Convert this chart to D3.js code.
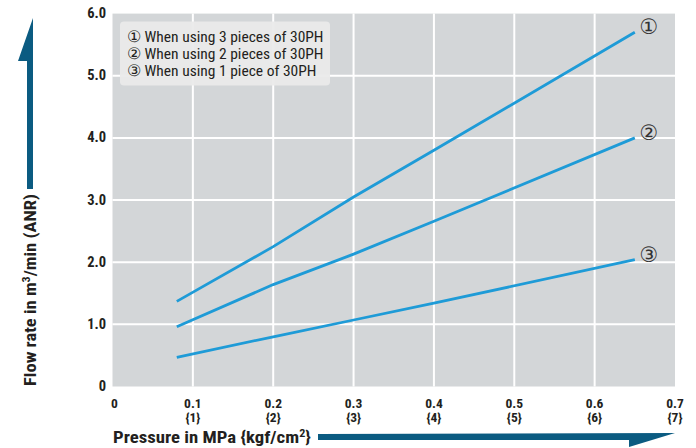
<!DOCTYPE html>
<html>
<head>
<meta charset="utf-8">
<script src="https://cdn.jsdelivr.net/npm/d3@7"></script>
<style>
  html, body { margin: 0; padding: 0; background: #fff; }
  svg { display: block; }
  .cond { font-family: "Liberation Sans Narrow", "Roboto Condensed", "Arial Narrow", "Liberation Sans", sans-serif; }
</style>
</head>
<body>
<svg id="chart" width="696" height="448"></svg>
<script>
// ---- data ----
const pressures = [0.08, 0.2, 0.3, 0.4, 0.65];           // MPa
const flow3pcs  = [1.37, 2.25, 3.05, 3.80, 5.70];         // m3/min (ANR)
const flow2pcs  = [0.96, 1.64, 2.13, 2.66, 4.00];
const flow1pc   = [0.47, 0.80, 1.07, 1.34, 2.04];
const seriesLabels = ["①", "②", "③"];
const legendLines = [
  "① When using 3 pieces of 30PH",
  "② When using 2 pieces of 30PH",
  "③ When using 1 piece of 30PH"
];
const xTicks = [0, 0.1, 0.2, 0.3, 0.4, 0.5, 0.6, 0.7];
const xTickLabels = ["0", "0.1", "0.2", "0.3", "0.4", "0.5", "0.6", "0.7"];
const xTickSub = ["", "{1}", "{2}", "{3}", "{4}", "{5}", "{6}", "{7}"];
const yTicks = [0, 1, 2, 3, 4, 5, 6];
const yTickLabels = ["0", "1.0", "2.0", "3.0", "4.0", "5.0", "6.0"];

const series = [flow3pcs, flow2pcs, flow1pc];

// ---- layout ----
const svg = d3.select("#chart");
const plot = { left: 112.5, right: 675, top: 13.6, bottom: 386.5 };
const x = d3.scaleLinear().domain([0, 0.7]).range([plot.left, plot.right]);
const y = d3.scaleLinear().domain([0, 6]).range([plot.bottom, plot.top]);

const lineColor = "#1e9bd7";
const arrowColor = "#0b5b81";
const textColor = "#231f20";

// background
svg.append("rect")
  .attr("x", plot.left).attr("y", plot.top)
  .attr("width", plot.right - plot.left).attr("height", plot.bottom - plot.top)
  .attr("fill", "#d3d6d8");

// grid
svg.append("g").selectAll("line").data(xTicks.filter(d => d > 0 && d < 0.7)).join("line")
  .attr("x1", d => x(d)).attr("x2", d => x(d))
  .attr("y1", plot.top).attr("y2", plot.bottom)
  .attr("stroke", "#fff").attr("stroke-width", 2);
svg.append("g").selectAll("line").data(yTicks.filter(d => d > 0 && d < 6)).join("line")
  .attr("x1", plot.left).attr("x2", plot.right)
  .attr("y1", d => y(d)).attr("y2", d => y(d))
  .attr("stroke", "#fff").attr("stroke-width", 2);

// legend box
const lg = svg.append("g");
lg.append("rect").attr("x", 120).attr("y", 21.5).attr("width", 210).attr("height", 64)
  .attr("rx", 4).attr("fill", "#eaeaea").attr("fill-opacity", 0.95);
lg.selectAll("text").data(legendLines).join("text")
  .attr("class", "cond")
  .attr("x", 127).attr("y", (d, i) => 41.5 + i * 17)
  .attr("font-size", 15.5).attr("fill", textColor)
  .text(d => d);

// lines
const lineGen = d3.line().x((d, i) => x(pressures[i])).y(d => y(d));
svg.append("g").selectAll("path").data(series).join("path")
  .attr("d", d => lineGen(d))
  .attr("fill", "none").attr("stroke", lineColor).attr("stroke-width", 2.8);

// end labels
svg.append("g").selectAll("text").data(series).join("text")
  .attr("x", d => x(pressures[pressures.length - 1]) + 14)
  .attr("y", d => y(d[d.length - 1]) - 5)
  .attr("text-anchor", "middle").attr("dominant-baseline", "central")
  .attr("font-family", "DejaVu Sans, sans-serif")
  .attr("font-size", 21).attr("fill", "#333")
  .text((d, i) => seriesLabels[i]);

// y tick labels
svg.append("g").selectAll("text").data(yTicks).join("text")
  .attr("class", "cond")
  .attr("x", 106).attr("y", d => y(d))
  .attr("text-anchor", "end").attr("dominant-baseline", "central")
  .attr("font-size", 14.5).attr("font-weight", "bold").attr("fill", textColor)
  .text((d, i) => yTickLabels[i]);

// x tick labels
const xt = svg.append("g").selectAll("g").data(xTicks).join("g")
  .attr("transform", d => `translate(${d === 0 ? x(d) + 2 : x(d)},0)`);
xt.append("text").attr("class", "cond")
  .attr("y", 402.5).attr("text-anchor", "middle").attr("dominant-baseline", "central")
  .attr("font-size", 13.5).attr("font-weight", "bold").attr("fill", textColor)
  .text((d, i) => xTickLabels[i]);
xt.append("text").attr("class", "cond")
  .attr("y", 417).attr("text-anchor", "middle").attr("dominant-baseline", "central")
  .attr("font-size", 13.5).attr("font-weight", "bold").attr("fill", textColor)
  .text((d, i) => xTickSub[i]);

// x axis title
const xtitle = svg.append("text").attr("class", "cond")
  .attr("x", 113).attr("y", 443)
  .attr("font-size", 17).attr("font-weight", "bold").attr("fill", textColor);
xtitle.append("tspan").text("Pressure in MPa {kgf/cm");
xtitle.append("tspan").attr("font-size", 11).attr("dy", -6).text("2");
xtitle.append("tspan").attr("dy", 6).text("}");

// y axis title
const ytitle = svg.append("text").attr("class", "cond")
  .attr("transform", "translate(36,386) rotate(-90)")
  .attr("font-size", 17).attr("font-weight", "bold").attr("fill", textColor);
ytitle.append("tspan").text("Flow rate in m");
ytitle.append("tspan").attr("font-size", 11).attr("dy", -6).text("3");
ytitle.append("tspan").attr("dy", 6).text("/min (ANR)");

// stretch titles to the reference widths
function fitWidth(sel, target) {
  const w = sel.node().getComputedTextLength();
  const tf = sel.attr("transform") || "";
  const ax = +sel.attr("x") || 0, ay = +sel.attr("y") || 0;
  const k = target / w;
  sel.attr("transform", `${tf} translate(${ax},${ay}) scale(${k},1) translate(${-ax},${-ay})`);
}
fitWidth(xtitle, 198);
fitWidth(ytitle, 192);

// arrows
svg.append("path")
  .attr("d", d3.line()([[318, 434], [675, 433], [629, 447], [629, 440], [318, 440]]) + "Z")
  .attr("fill", arrowColor);
svg.append("path")
  .attr("d", d3.line()([[27, 189], [33, 189], [33, 18], [18, 61], [27, 61]]) + "Z")
  .attr("fill", arrowColor);
</script>
</body>
</html>
